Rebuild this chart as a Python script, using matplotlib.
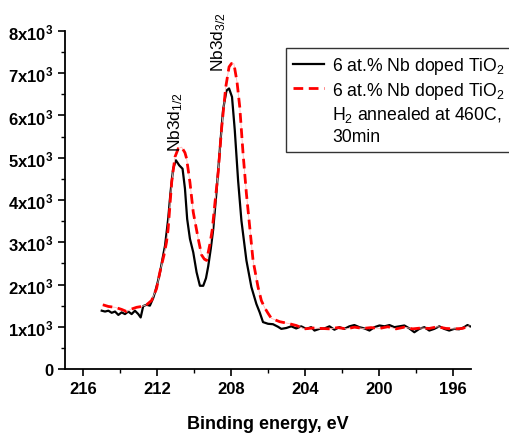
import matplotlib
matplotlib.use("Agg")
import matplotlib.pyplot as plt
from matplotlib.lines import Line2D
from matplotlib.ticker import MultipleLocator

plt.rcParams['font.family'] = ['Liberation Sans', 'DejaVu Sans']
plt.rcParams['mathtext.fontset'] = 'custom'
plt.rcParams['mathtext.rm'] = 'Liberation Sans'
plt.rcParams['mathtext.it'] = 'Liberation Sans:italic'
plt.rcParams['mathtext.bf'] = 'Liberation Sans:bold'

# Nb 3d spectrum, as-prepared sample (binding energy eV, counts x1000)
e_asprep = [215.01, 214.83, 214.65, 214.47, 214.29, 214.11, 213.93, 213.75, 213.57,
            213.39, 213.21, 213.03, 212.90, 212.76, 212.58, 212.40, 212.22, 212.12,
            211.98, 211.85, 211.72, 211.58, 211.41, 211.28, 211.14, 210.99, 210.81,
            210.63, 210.50, 210.38, 210.23, 210.05, 209.87, 209.69, 209.51, 209.36,
            209.24, 209.10, 208.97, 208.79, 208.61, 208.43, 208.25, 208.11, 207.95,
            207.80, 207.62, 207.44, 207.17, 206.90, 206.63, 206.45, 206.27, 206.00,
            205.73, 205.46, 205.28, 205.01, 204.74, 204.47, 204.20, 203.93, 203.66,
            203.48, 203.21, 202.94, 202.67, 202.40, 202.13, 201.86, 201.59, 201.32,
            201.05, 200.77, 200.50, 200.23, 199.96, 199.69, 199.42, 199.15, 198.88,
            198.61, 198.34, 198.07, 197.80, 197.53, 197.26, 196.99, 196.72, 196.45,
            196.18, 195.91, 195.64, 195.37, 195.19, 195.05]
i_asprep = [1.38, 1.36, 1.38, 1.33, 1.36, 1.28, 1.34, 1.30, 1.36,
            1.30, 1.38, 1.30, 1.22, 1.49, 1.52, 1.50, 1.68, 1.82,
            2.05, 2.29, 2.60, 2.92, 3.55, 4.19, 4.74, 4.94, 4.82,
            4.74, 4.27, 3.55, 3.08, 2.76, 2.29, 1.97, 1.97, 2.15,
            2.43, 2.85, 3.30, 4.20, 5.20, 6.15, 6.59, 6.64, 6.44,
            5.65, 4.46, 3.51, 2.57, 1.94, 1.54, 1.34, 1.11, 1.07,
            1.06, 1.00, 0.95, 0.97, 1.01, 0.96, 1.01, 0.95, 0.99,
            0.91, 0.95, 0.96, 1.01, 0.93, 0.99, 0.95, 1.01, 1.04,
            0.99, 0.96, 0.91, 0.99, 1.03, 1.01, 1.04, 0.99, 1.01,
            1.03, 0.96, 0.87, 0.95, 0.99, 0.91, 0.95, 1.01, 0.95,
            0.91, 0.95, 0.94, 0.99, 1.04, 1.01]

# Nb 3d spectrum after H2 anneal
e_annealed = [214.95, 214.65, 214.29, 213.93, 213.66, 213.39, 213.12, 212.85, 212.58,
              212.31, 212.04, 211.86, 211.64, 211.50, 211.41, 211.22, 211.04, 210.86,
              210.68, 210.50, 210.41, 210.23, 210.05, 209.78, 209.60, 209.45, 209.33,
              209.15, 209.02, 208.88, 208.70, 208.52, 208.29, 208.11, 207.98, 207.85,
              207.68, 207.53, 207.35, 207.17, 206.99, 206.81, 206.54, 206.36, 206.18,
              206.00, 205.82, 205.37, 204.92, 204.47, 204.02, 203.57, 203.11, 202.66,
              202.21, 201.76, 201.31, 200.86, 200.41, 199.96, 199.51, 199.06, 198.61,
              198.16, 197.71, 197.26, 196.81, 196.36, 195.91, 195.46, 195.10]
i_annealed = [1.52, 1.48, 1.46, 1.41, 1.36, 1.42, 1.46, 1.48, 1.52,
              1.62, 1.90, 2.29, 2.69, 3.00, 3.32, 4.42, 5.02, 5.22,
              5.25, 5.12, 4.98, 4.42, 3.71, 3.08, 2.70, 2.60, 2.57,
              2.95, 3.30, 3.91, 4.65, 5.67, 6.67, 7.15, 7.23, 7.23,
              6.80, 6.20, 5.09, 4.15, 3.36, 2.57, 1.94, 1.62, 1.45,
              1.32, 1.20, 1.12, 1.08, 1.03, 0.95, 0.97, 0.96, 0.95,
              0.98, 0.95, 0.99, 0.96, 0.98, 0.96, 1.00, 0.95, 0.99,
              0.95, 0.97, 0.96, 1.00, 0.96, 0.95, 0.96, 1.02]

y_ticks = [0, 1000, 2000, 3000, 4000, 5000, 6000, 7000, 8000]
y_labels = ['0'] + [r'%dx10$^{\mathbf{3}}$' % k for k in range(1, 9)]
x_ticks = [216, 212, 208, 204, 200, 196]

legend_lines = ['6 at.% Nb doped TiO$_2$', '6 at.% Nb doped TiO$_2$',
                'H$_2$ annealed at 460C,', '30min']

fig = plt.figure(figsize=(5.10, 4.39), dpi=100)
ax = fig.add_axes([65 / 510, 69 / 439, 406 / 510, 338 / 439])

ax.plot(e_asprep, [v * 1000 for v in i_asprep], color='black', lw=1.6)
ax.plot(e_annealed, [v * 1000 for v in i_annealed], color='#ffb8b8', lw=0.6)
ax.plot(e_annealed, [v * 1000 for v in i_annealed], color='red', lw=2.0,
        dashes=(3.5, 2.0))

ax.set_xlim(217, 195)
ax.set_ylim(0, 8000)
ax.set_xticks(x_ticks)
ax.xaxis.set_minor_locator(MultipleLocator(2))
ax.set_yticks(y_ticks)
ax.set_yticklabels(y_labels)
ax.yaxis.set_minor_locator(MultipleLocator(500))

for s in ['top', 'right']:
    ax.spines[s].set_visible(False)
for s in ['left', 'bottom']:
    ax.spines[s].set_linewidth(1.3)
ax.tick_params(which='major', direction='out', length=5, width=1.2,
               labelsize=12)
ax.tick_params(which='minor', direction='out', length=3, width=1.0)
for lbl in ax.get_xticklabels() + ax.get_yticklabels():
    lbl.set_fontweight('bold')

ax.set_xlabel('Binding energy, eV', fontsize=13, fontweight='bold', labelpad=14)

ax.text(211.0, 5170, r'Nb3d$_{1/2}$', rotation=90, fontsize=12.5,
        ha='center', va='bottom')
ax.text(208.7, 7060, r'Nb3d$_{3/2}$', rotation=90, fontsize=12.5,
        ha='center', va='bottom')

# legend: second entry spans three text rows, handle sits on the first row
handles = [Line2D([], [], color='black', lw=1.6),
           Line2D([], [], color='red', lw=2.0, dashes=(3.5, 2.0)),
           Line2D([], [], color='none'),
           Line2D([], [], color='none')]
leg = ax.legend(handles, legend_lines, loc='upper left',
                bbox_to_anchor=(286 / 510, 1 - 49 / 439),
                bbox_transform=fig.transFigure, fontsize=12.7, frameon=True,
                fancybox=False, framealpha=1, edgecolor='#333333',
                borderaxespad=0, handlelength=1.75, handletextpad=0.45,
                labelspacing=0.2, borderpad=0.4)
leg.get_frame().set_linewidth(1.0)

fig.savefig('out.png', dpi=100)
